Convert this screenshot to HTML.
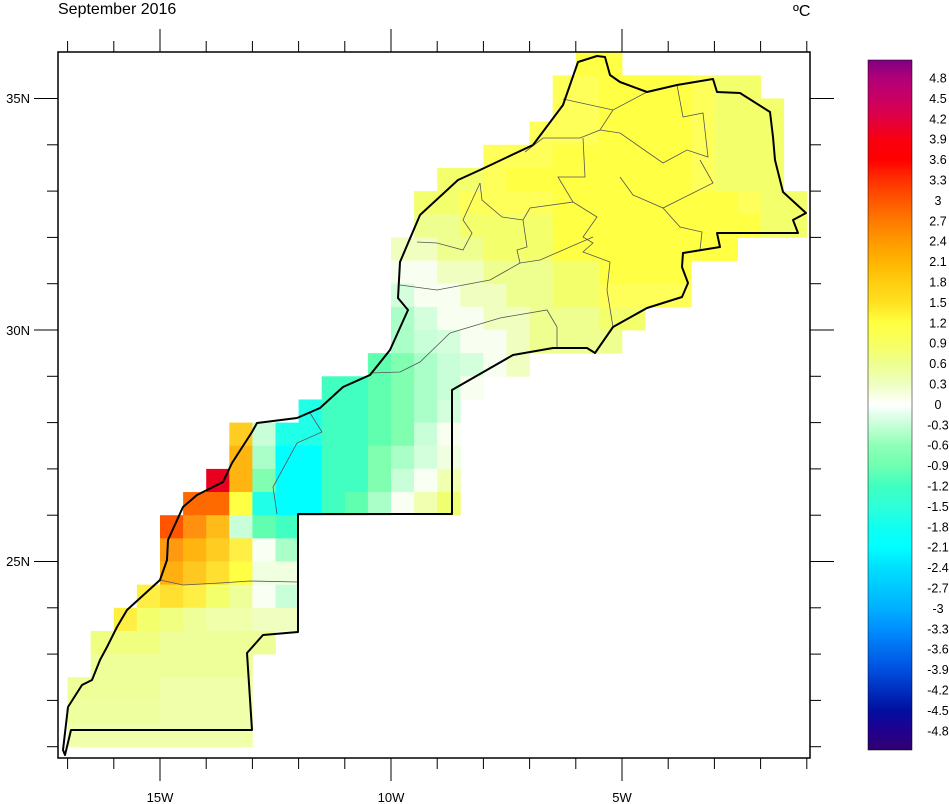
<!DOCTYPE html>
<html><head><meta charset="utf-8">
<style>
html,body{margin:0;padding:0;background:#fff;}
svg{display:block;font-family:"Liberation Sans",Arial,sans-serif;}
</style></head>
<body>
<svg id="s" width="949" height="804" viewBox="0 0 949 804" xmlns="http://www.w3.org/2000/svg">
<defs>
<linearGradient id="cb" x1="0" y1="60" x2="0" y2="750" gradientUnits="userSpaceOnUse">
<stop offset="0" stop-color="#800080"/>
<stop offset="0.026" stop-color="#b0007a"/>
<stop offset="0.056" stop-color="#c80064"/>
<stop offset="0.085" stop-color="#e00040"/>
<stop offset="0.115" stop-color="#f80010"/>
<stop offset="0.144" stop-color="#ff0000"/>
<stop offset="0.174" stop-color="#ff3000"/>
<stop offset="0.203" stop-color="#ff5500"/>
<stop offset="0.233" stop-color="#ff7a00"/>
<stop offset="0.262" stop-color="#ff9800"/>
<stop offset="0.292" stop-color="#ffb400"/>
<stop offset="0.321" stop-color="#ffcc10"/>
<stop offset="0.351" stop-color="#ffe020"/>
<stop offset="0.381" stop-color="#ffff40"/>
<stop offset="0.410" stop-color="#f8ff60"/>
<stop offset="0.440" stop-color="#eeff90"/>
<stop offset="0.469" stop-color="#eeffc0"/>
<stop offset="0.499" stop-color="#ffffff"/>
<stop offset="0.528" stop-color="#c8ffd8"/>
<stop offset="0.558" stop-color="#90ffb8"/>
<stop offset="0.587" stop-color="#70ffb0"/>
<stop offset="0.617" stop-color="#40ffc0"/>
<stop offset="0.646" stop-color="#30ffd8"/>
<stop offset="0.676" stop-color="#10fff0"/>
<stop offset="0.706" stop-color="#00ffff"/>
<stop offset="0.735" stop-color="#00e0ff"/>
<stop offset="0.765" stop-color="#00c8ff"/>
<stop offset="0.794" stop-color="#00b0ff"/>
<stop offset="0.824" stop-color="#0090ff"/>
<stop offset="0.853" stop-color="#0070f0"/>
<stop offset="0.883" stop-color="#0050e0"/>
<stop offset="0.912" stop-color="#0030c0"/>
<stop offset="0.942" stop-color="#0010a0"/>
<stop offset="0.971" stop-color="#200090"/>
<stop offset="1" stop-color="#300070"/>
</linearGradient>
</defs>
<rect x="0" y="0" width="949" height="804" fill="#fff"/>
<g id="cells"></g>
<g fill="none" stroke="#555" stroke-width="0.8">
<polyline points="563,99 613,110 647,92"/>
<polyline points="613,110 600,130 580,138 543,138 525,152"/>
<polyline points="600,130 620,133 663,163 687,150 708,157 703,113 683,117 677,85"/>
<polyline points="583,138 585,177 558,177 573,202 530,208 523,220 527,247 517,250 520,263 490,280 437,290 400,285"/>
<polyline points="620,177 633,195 663,208 713,183 700,160"/>
<polyline points="663,208 680,227 702,232 700,250"/>
<polyline points="573,202 597,217 583,237 593,243 583,252 610,262 607,290 613,327"/>
<polyline points="480,183 482,200 502,217 523,220"/>
<polyline points="480,183 463,220 472,233 463,250 437,243 417,242"/>
<polyline points="520,263 540,260 593,237"/>
<polyline points="450,333 500,318 547,310 557,327 557,348"/>
<polyline points="370,373 400,372 420,362 450,333"/>
<polyline points="310,413 322,432 297,443 273,487 277,514"/>
<polyline points="160,580 183,585 220,583 250,581 298,582"/>
</g>
<polygon fill="none" stroke="#000" stroke-width="2" stroke-linejoin="round" points="578,62 597,56 605,57 610,75 620,82 647,92 677,85 713,79 717,92 740,93 770,112 773,137 775,160 783,192 806,213 793,220 798,233 717,233 720,247 683,253 682,267 688,283 682,297 647,308 613,327 595,353 587,348 553,348 513,355 452,390 452,514 298,514 298,632 263,635 247,653 252,730 71,730 65,755 63,750 68,707 82,685 92,680 100,660 107,647 117,627 127,610 160,580 167,560 168,540 183,507 197,495 223,482 232,463 252,432 257,423 297,418 320,408 343,387 370,375 390,350 408,310 398,298 400,262 420,215 458,180 480,170 533,145 563,105"/>
<rect x="58" y="52" width="752" height="706" fill="none" stroke="#000" stroke-width="1.5"/>
<g id="ticks" stroke="#000" stroke-width="1"></g>
<g font-size="13" fill="#000">
<text x="160" y="802" text-anchor="middle">15W</text>
<text x="391" y="802" text-anchor="middle">10W</text>
<text x="622" y="802" text-anchor="middle">5W</text>
<text x="30" y="103" text-anchor="end">35N</text>
<text x="30" y="335" text-anchor="end">30N</text>
<text x="30" y="566" text-anchor="end">25N</text>
</g>
<text x="58" y="14" font-size="16">September 2016</text>
<text x="793" y="16" font-size="16">ºC</text>
<rect x="868" y="60" width="44" height="690" fill="url(#cb)" stroke="#000" stroke-width="0.5"/>
<g id="cbl" font-size="12.5" text-anchor="middle"></g>
</svg>
<script>
var NS="http://www.w3.org/2000/svg";
var P={Y:"#ffff44",y:"#ffff5a",l:"#f4ff6c",m:"#eeff90",n:"#f0ffc0",w:"#f8fff0",W:"#fafff4",
a:"#d4ffdc",b:"#aaffc8",c:"#80ffb0",d:"#60ffb0",e:"#40ffc0",f:"#20ffe8",C:"#00ffff",
"1":"#ffcc22","2":"#ffb40f","3":"#ff9010","4":"#ff6a00","5":"#ff5500",R:"#e8001e",
"6":"#ffee44","7":"#ffe030","8":"#ffbb18","9":"#ff9a10",p:"#ffb010",q:"#ffc820",
h:"#f0ff80",i:"#eeff99",j:"#f0ffaa",k:"#eeffa0",s:"#f0ffe0",t:"#f0ffb0",u:"#f0ff70",v:"#c8ffd8"};
var R=[[22,"YY"],[21,"yyYYYYyll"],[21,"yyYYYYylll"],[20,"yyyYYYYylll"],[18,"yyyYYYYYYylll"],
[16,"llyYYYYYYYYylll"],[15,"llyyyyYYYYYYYYyll"],[15,"mmllllYYYYYYYYYll"],[14,"nnmmlllYYYYYYYY"],
[14,"wwnnmmmllYYYY"],[14,"awwnnmmllyyyy"],[14,"bawwnnmmmll"],[14,"bvawwnmmmm"],[13,"dcbvawn"],
[11,"eedcbvw"],[10,"feedcba"],[7,"1vffeedcvw"],[7,"2bCCeecbas"],[6,"R2cCCeecvWt"],[5,"44YfCCedbWtu"],
[4,"538vde"],[4,"9216Wb"],[4,"pq7Yss"],[3,"676liWv"],[2,"6lhijjnn"],[1,"hhhiiiii"],[1,"iiiiiii"],
[0,"iiiijjjj"],[0,"kkkkjjjj"],[0,"jjjjjjjj"]];
function X(lon){return 160+(lon+15)*46.2;}
function Yf(lat){return 330-(lat-30)*46.3;}
var g=document.getElementById("cells");
R.forEach(function(r,ri){
 var lat=36-0.5*ri;var y0=Yf(lat),y1=Yf(lat-0.5);
 for(var k=0;k<r[1].length;k++){
  var c=r[0]+k;var lon=-17+0.5*c;var x0=X(lon),x1=X(lon+0.5);
  var e=document.createElementNS(NS,"rect");
  e.setAttribute("x",x0.toFixed(2));e.setAttribute("y",y0.toFixed(2));
  e.setAttribute("width",(x1-x0+0.4).toFixed(2));e.setAttribute("height",(y1-y0+0.4).toFixed(2));
  e.setAttribute("fill",P[r[1][k]]);g.appendChild(e);
 }
});
var t=document.getElementById("ticks");
function ln(a,b,c,d){var e=document.createElementNS(NS,"line");e.setAttribute("x1",a);e.setAttribute("y1",b);e.setAttribute("x2",c);e.setAttribute("y2",d);t.appendChild(e);}
for(var lon=-17;lon<=-1;lon++){var x=X(lon);var L=(lon%5==0)?23:11;ln(x,52,x,52-L);ln(x,758,x,758+L);}
for(var lat=21;lat<=35;lat++){var y=Yf(lat);var L=(lat%5==0)?24:11;ln(58,y,58-L,y);ln(810,y,810+L,y);}
var cl=document.getElementById("cbl");
for(var i=0;i<33;i++){var v=4.8-0.3*i;var s=(Math.round(v*10)/10).toString();if(s=="-0")s="0";
 var e=document.createElementNS(NS,"text");e.setAttribute("x",938);e.setAttribute("y",(78+i*20.4+4.5).toFixed(1));e.textContent=s;cl.appendChild(e);}
</script>
</body></html>
